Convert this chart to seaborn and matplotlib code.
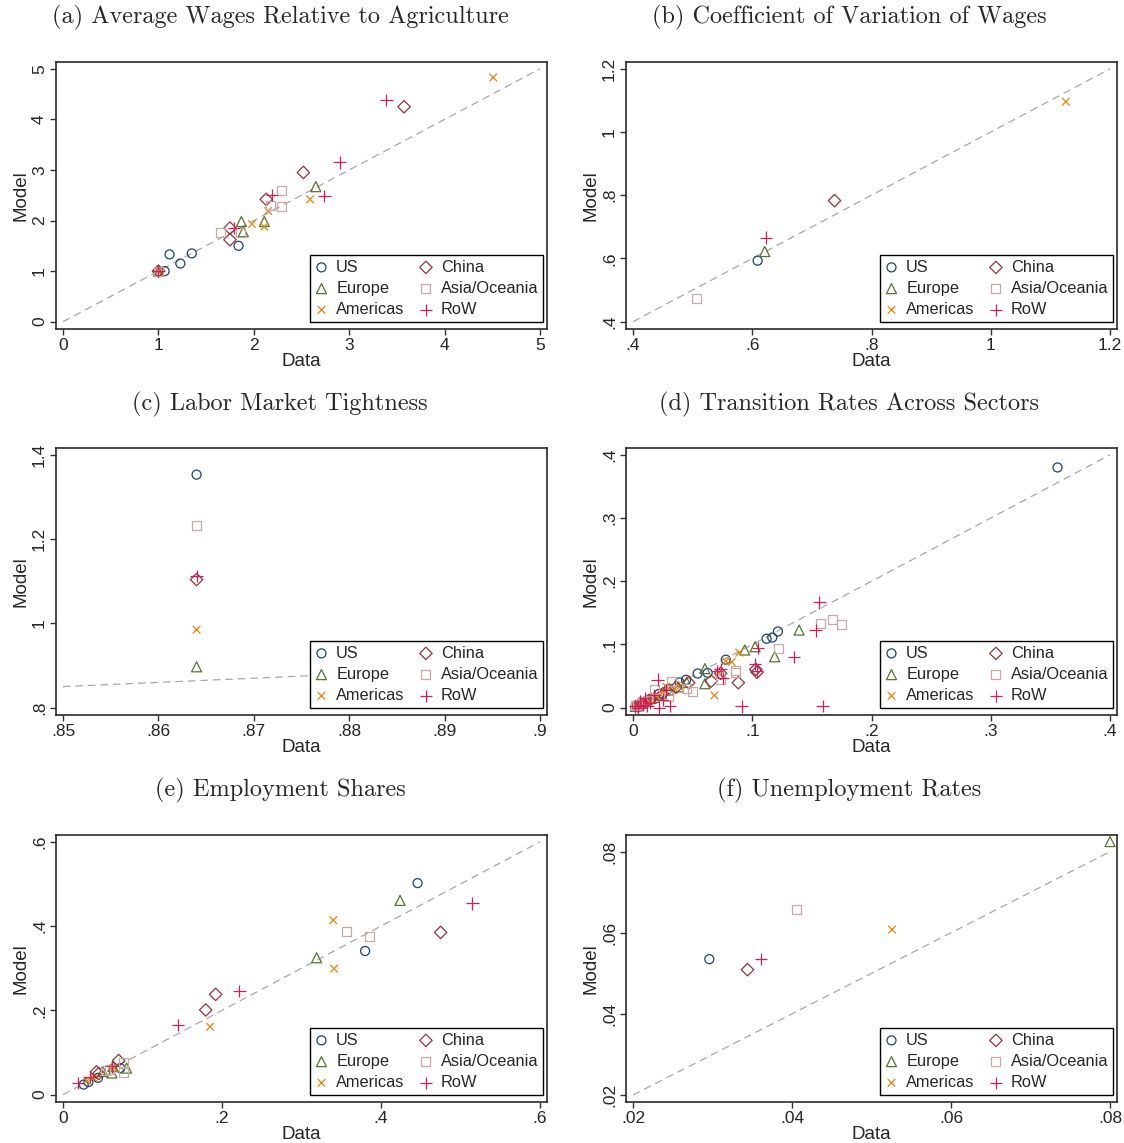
import numpy as np
import matplotlib
matplotlib.use("Agg")
import matplotlib.pyplot as plt
from matplotlib.markers import MarkerStyle
import seaborn as sns

# regions, legend order (column-wise for ncol=2)
regions = ["US", "Europe", "Americas", "China", "Asia/Oceania", "RoW"]
colors = ["#1a476f", "#55752f", "#e8850c", "#90353b", "#c9a8a5", "#d21f5c"]
markers = ["o", "^", "x", "D", "s", "+"]
msizes = [42, 52, 30, 40, 42, 80]

# (a) average wages relative to agriculture
a_data = {
    "US": ([1.0, 1.065, 1.117, 1.23, 1.35, 1.84], [1.0, 1.0, 1.33, 1.15, 1.35, 1.50]),
    "Europe": ([1.0, 1.87, 1.89, 2.11, 2.65], [1.0, 1.98, 1.78, 1.98, 2.67]),
    "Americas": ([1.0, 1.98, 2.11, 2.15, 2.59, 4.51], [1.0, 1.93, 1.88, 2.19, 2.42, 4.83]),
    "China": ([1.0, 1.75, 1.75, 2.13, 2.52, 3.575], [1.0, 1.85, 1.62, 2.42, 2.95, 4.25]),
    "Asia/Oceania": ([1.0, 1.65, 1.86, 2.18, 2.29, 2.29], [1.0, 1.76, 1.76, 2.30, 2.59, 2.28]),
    "RoW": ([1.0, 1.79, 2.19, 2.74, 2.90, 3.39], [1.0, 1.85, 2.51, 2.49, 3.15, 4.38]),
}

# (b) coefficient of variation of wages
b_data = {
    "US": ([0.609], [0.593]),
    "Europe": ([0.621], [0.622]),
    "Americas": ([1.126], [1.096]),
    "China": ([0.738], [0.783]),
    "Asia/Oceania": ([0.507], [0.473]),
    "RoW": ([0.623], [0.666]),
}

# (c) labor market tightness
c_data = {
    "US": ([0.864], [1.353]),
    "Europe": ([0.864], [0.897]),
    "Americas": ([0.864], [0.985]),
    "China": ([0.864], [1.104]),
    "Asia/Oceania": ([0.864], [1.232]),
    "RoW": ([0.864], [1.113]),
}

# (d) transition rates across sectors
d_data = {
    "US": ([0.356, 0.1215, 0.1168, 0.1120, 0.0778, 0.0542, 0.0626, 0.0445, 0.039, 0.030,
            0.022, 0.015, 0.010, 0.006, 0.003, 0.002],
           [0.380, 0.1205, 0.1110, 0.1090, 0.0760, 0.0540, 0.0550, 0.0440, 0.040, 0.030,
            0.022, 0.014, 0.009, 0.005, 0.003, 0.001]),
    "Europe": ([0.1393, 0.1188, 0.1024, 0.0937, 0.0603, 0.0603, 0.045, 0.038, 0.030, 0.024,
                0.018, 0.012, 0.008, 0.004, 0.002],
               [0.1228, 0.0806, 0.0964, 0.0912, 0.0617, 0.0379, 0.040, 0.033, 0.028, 0.022,
                0.016, 0.012, 0.007, 0.003, 0.002]),
    "Americas": ([0.0891, 0.0828, 0.0779, 0.0683, 0.072, 0.040, 0.035, 0.028, 0.025, 0.020,
                  0.016, 0.012, 0.009, 0.006, 0.003, 0.002],
                 [0.0870, 0.0722, 0.0738, 0.0195, 0.055, 0.035, 0.030, 0.033, 0.024, 0.018,
                  0.012, 0.009, 0.006, 0.004, 0.002, 0.001]),
    "China": ([0.0883, 0.1030, 0.1040, 0.0735, 0.0655, 0.0467, 0.036, 0.025, 0.015, 0.008, 0.004],
              [0.0395, 0.0606, 0.0560, 0.0543, 0.0420, 0.0395, 0.032, 0.022, 0.013, 0.006, 0.003]),
    "Asia/Oceania": ([0.1670, 0.1745, 0.1569, 0.1223, 0.0862, 0.0862, 0.0735, 0.0502, 0.0323,
                      0.045, 0.030, 0.018, 0.012, 0.008, 0.004, 0.002],
                     [0.1397, 0.1312, 0.1328, 0.0933, 0.0564, 0.0590, 0.0448, 0.0263, 0.0411,
                      0.030, 0.018, 0.028, 0.012, 0.010, 0.005, 0.003]),
    "RoW": ([0.1563, 0.1532, 0.1350, 0.1023, 0.1037, 0.1050, 0.0911, 0.1590, 0.0207, 0.0757,
             0.0702, 0.0735, 0.0309, 0.022, 0.028, 0.025, 0.018, 0.014, 0.012, 0.010, 0.008,
             0.006, 0.004, 0.002],
            [0.1665, 0.1222, 0.0801, 0.0690, 0.0577, 0.0940, 0.0020, 0.0026, 0.0443, 0.0470,
             0.0577, 0.0606, 0.0026, 0.000, 0.028, 0.012, 0.020, 0.008, 0.003, 0.015, 0.005,
             0.010, 0.000, 0.002]),
}

# (e) employment shares
e_data = {
    "US": ([0.446, 0.380, 0.026, 0.044, 0.072, 0.032], [0.502, 0.341, 0.024, 0.040, 0.063, 0.030]),
    "Europe": ([0.424, 0.319, 0.080, 0.0615, 0.063, 0.050], [0.461, 0.325, 0.063, 0.0515, 0.067, 0.055]),
    "Americas": ([0.340, 0.341, 0.185, 0.0385, 0.0636, 0.030], [0.414, 0.299, 0.161, 0.040, 0.0634, 0.033]),
    "China": ([0.475, 0.192, 0.1795, 0.070, 0.042, 0.045], [0.385, 0.238, 0.201, 0.081, 0.054, 0.050]),
    "Asia/Oceania": ([0.3565, 0.386, 0.076, 0.076, 0.053, 0.058], [0.388, 0.375, 0.077, 0.0515, 0.058, 0.060]),
    "RoW": ([0.515, 0.222, 0.145, 0.019, 0.034, 0.0615], [0.454, 0.246, 0.166, 0.028, 0.042, 0.067]),
}

# (f) unemployment rates
f_data = {
    "US": ([0.0296], [0.0535]),
    "Europe": ([0.0800], [0.0825]),
    "Americas": ([0.0526], [0.0608]),
    "China": ([0.0344], [0.0509]),
    "Asia/Oceania": ([0.0406], [0.0657]),
    "RoW": ([0.0361], [0.0536]),
}

titles = ["(a) Average Wages Relative to Agriculture", "(b) Coefficient of Variation of Wages",
          "(c) Labor Market Tightness", "(d) Transition Rates Across Sectors",
          "(e) Employment Shares", "(f) Unemployment Rates"]

a_xt = [0, 1, 2, 3, 4, 5]; a_yt = [0, 1, 2, 3, 4, 5]
b_xt = [0.4, 0.6, 0.8, 1.0, 1.2]; b_yt = [0.4, 0.6, 0.8, 1.0, 1.2]
c_xt = [0.85, 0.86, 0.87, 0.88, 0.89, 0.90]; c_yt = [0.8, 1.0, 1.2, 1.4]
d_xt = [0, 0.1, 0.2, 0.3, 0.4]; d_yt = [0, 0.1, 0.2, 0.3, 0.4]
e_xt = [0, 0.2, 0.4, 0.6]; e_yt = [0, 0.2, 0.4, 0.6]
f_xt = [0.02, 0.04, 0.06, 0.08]; f_yt = [0.02, 0.04, 0.06, 0.08]

panels = [(a_data, a_xt, a_yt), (b_data, b_xt, b_yt), (c_data, c_xt, c_yt),
          (d_data, d_xt, d_yt), (e_data, e_xt, e_yt), (f_data, f_xt, f_yt)]


def fmt(v):
    s = f"{v:g}"
    if s.startswith("0."):
        s = s[1:]
    return s


sns.set_style("ticks")
plt.rcParams["font.family"] = ["Liberation Sans", "DejaVu Sans"]

W, H = 1124, 1143
fig = plt.figure(figsize=(W / 100, H / 100), dpi=100)

lefts = [56, 626]
tops = [62, 448, 835]
aw, ah = 491, 267
title_x = [280, 849]
title_y = [17, 404, 790]

for i, (pdata, xt, yt) in enumerate(panels):
    col, row = i % 2, i // 2
    ax = fig.add_axes([lefts[col] / W, 1 - (tops[row] + ah) / H, aw / W, ah / H])

    # 45 degree reference line
    ax.plot([xt[0], xt[-1]], [xt[0], xt[-1]], color="#a8a8a8", lw=0.9,
            linestyle=(0, (6, 4)), zorder=1)

    for reg, c, m, s in zip(regions, colors, markers, msizes):
        xs, ys = pdata[reg]
        sns.scatterplot(x=xs, y=ys, marker=MarkerStyle(m, fillstyle="none"), color=c,
                        s=s, linewidth=0.9, label=reg, ax=ax, zorder=3)

    # axis range covers the ticks and the data (as Stata does)
    all_x = [v for reg in regions for v in pdata[reg][0]]
    all_y = [v for reg in regions for v in pdata[reg][1]]
    xr = xt[-1] - xt[0]
    yr = yt[-1] - yt[0]
    ax.set_xlim(min(xt[0], min(all_x)) - 0.0147 * xr, max(xt[-1], max(all_x)) + 0.0147 * xr)
    ax.set_ylim(min(yt[0], min(all_y)) - 0.029 * yr, max(yt[-1], max(all_y)) + 0.027 * yr)
    ax.set_xticks(xt)
    ax.set_xticklabels([fmt(v) for v in xt])
    ax.set_yticks(yt)
    ax.set_yticklabels([fmt(v) for v in yt], rotation=90, va="center")
    ax.tick_params(axis="both", labelsize=12.5, length=4, width=1, color="#333333", pad=2.5)
    ax.set_xlabel("Data", fontsize=13.5, labelpad=0)
    ax.set_ylabel("Model", fontsize=13.5, labelpad=2)
    for sp in ax.spines.values():
        sp.set_visible(True)
        sp.set_color("#2a2a2a")
        sp.set_linewidth(1.2)

    leg = ax.legend(ncol=2, loc="lower right", bbox_to_anchor=(0.992, 0.026),
                    borderaxespad=0, fontsize=11.8, frameon=True, fancybox=False,
                    edgecolor="black", framealpha=1, handlelength=0.8, handletextpad=0.5,
                    columnspacing=0.9, labelspacing=0.38, borderpad=0.3)
    leg.get_frame().set_linewidth(1.0)

    fig.text(title_x[col] / W, 1 - title_y[row] / H, titles[i], ha="center", va="center",
             fontsize=17.5, family="cmr10")

fig.savefig("out.png", dpi=100)
